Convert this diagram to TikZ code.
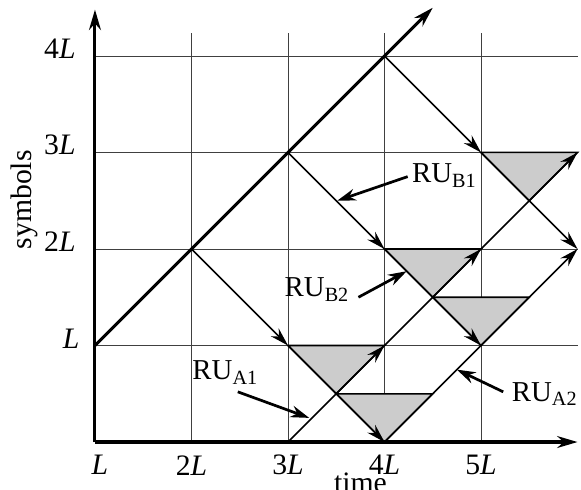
\documentclass[tikz,border=0pt]{standalone}
\usepackage{fontspec}
\setmainfont{Liberation Serif}
\usetikzlibrary{arrows.meta}

\begin{document}
\begin{tikzpicture}[x=2cm,y=2cm,
  grid/.style={line width=0.5pt,black!75},
  axis/.style={line width=1.8pt,-{Stealth[length=12pt,width=7pt]}},
  flow/.style={line width=0.9pt,-{Stealth[length=11pt,width=6.5pt]}},
  shade/.style={fill=gray!40,draw=black,line width=0.9pt},
  tick/.style={font=\fontsize{17.5}{20}\selectfont,inner sep=1pt},
  ru/.style={font=\fontsize{17}{20}\selectfont,inner sep=1pt},
  pointer/.style={line width=1.6pt,-{Stealth[length=11pt,width=7pt]}}]
  \useasboundingbox (-0.984,-0.497) rectangle (5.036,4.58);
  \foreach \x in {0,...,5} \foreach \y in {0,...,4} \coordinate (g\x\y) at (\x,\y);
  \coordinate (h1) at (2.5,0.5);
  \coordinate (h2) at (3.5,0.5);
  \coordinate (h3) at (3.5,1.5);
  \coordinate (h4) at (4.5,1.5);
  \coordinate (h5) at (4.5,2.5);
  \foreach \i in {1,...,4} {
    \draw[grid] (\i,0) -- (\i,4.24);
    \draw[grid] (0,\i) -- (5,\i);
  }
  \draw[shade] (g21) -- (g31) -- (h1) -- cycle;
  \draw[shade] (h1) -- (h2) -- (g30) -- cycle;
  \draw[shade] (g32) -- (g42) -- (h3) -- cycle;
  \draw[shade] (h3) -- (h4) -- (g41) -- cycle;
  \draw[shade] (g43) -- (g53) -- (h5) -- cycle;
  \draw[flow] (g34) -- (g43);
  \draw[flow] (g43) -- (g52);
  \draw[flow] (g23) -- (g32);
  \draw[flow] (g32) -- (g41);
  \draw[flow] (g12) -- (g21);
  \draw[flow] (g21) -- (g30);
  \draw[flow] (g20) -- (g31);
  \draw[flow] (g31) -- (g42);
  \draw[flow] (g42) -- (g53);
  \draw[line width=0.9pt] (g30) -- (g41);
  \draw[flow] (g41) -- (g52);
  \coordinate (ytop) at (0,4.48);
  \coordinate (xend) at (5.0,0);
  \coordinate (dtop) at (3.5,4.5);
  \draw[axis] (g01) -- (dtop);
  \draw[axis] (g00) -- (ytop);
  \draw[axis] (g00) -- (xend);
  \node[tick] (x1) at (0.05,-0.24) {\textit{L}};
  \foreach \i/\n in {1/2,2/3,3/4,4/5}
    \node[tick] (x\n) at (\i,-0.24) {\n\textit{L}};
  \node[tick,anchor=east] (y1) at (-0.14,1.07) {\textit{L}};
  \foreach \i in {2,3,4}
    \node[tick,anchor=east] (y\i) at (-0.18,\i+0.08) {\i\textit{L}};
  \node[tick,inner sep=0pt] (time) at (2.75,-0.42) {time};
  \node[tick,rotate=90] (symbols) at (-0.73,2.51) {symbols};
  \node[ru] (ruA1) at (1.35,0.72) {RU\textsubscript{A1}};
  \node[ru] (ruA2) at (4.66,0.50) {RU\textsubscript{A2}};
  \node[ru] (ruB1) at (3.62,2.76) {RU\textsubscript{B1}};
  \node[ru] (ruB2) at (2.30,1.58) {RU\textsubscript{B2}};
  \coordinate (tA1) at (1.48,0.52);
  \coordinate (pA1) at (2.22,0.25);
  \coordinate (tA2) at (4.23,0.52);
  \coordinate (pA2) at (3.75,0.75);
  \coordinate (tB1) at (3.24,2.75);
  \coordinate (pB1) at (2.51,2.50);
  \coordinate (tB2) at (2.73,1.50);
  \coordinate (pB2) at (3.23,1.77);
  \draw[pointer] (tA1) -- (pA1);
  \draw[pointer] (tA2) -- (pA2);
  \draw[pointer] (tB1) -- (pB1);
  \draw[pointer] (tB2) -- (pB2);
\end{tikzpicture}
\end{document}
